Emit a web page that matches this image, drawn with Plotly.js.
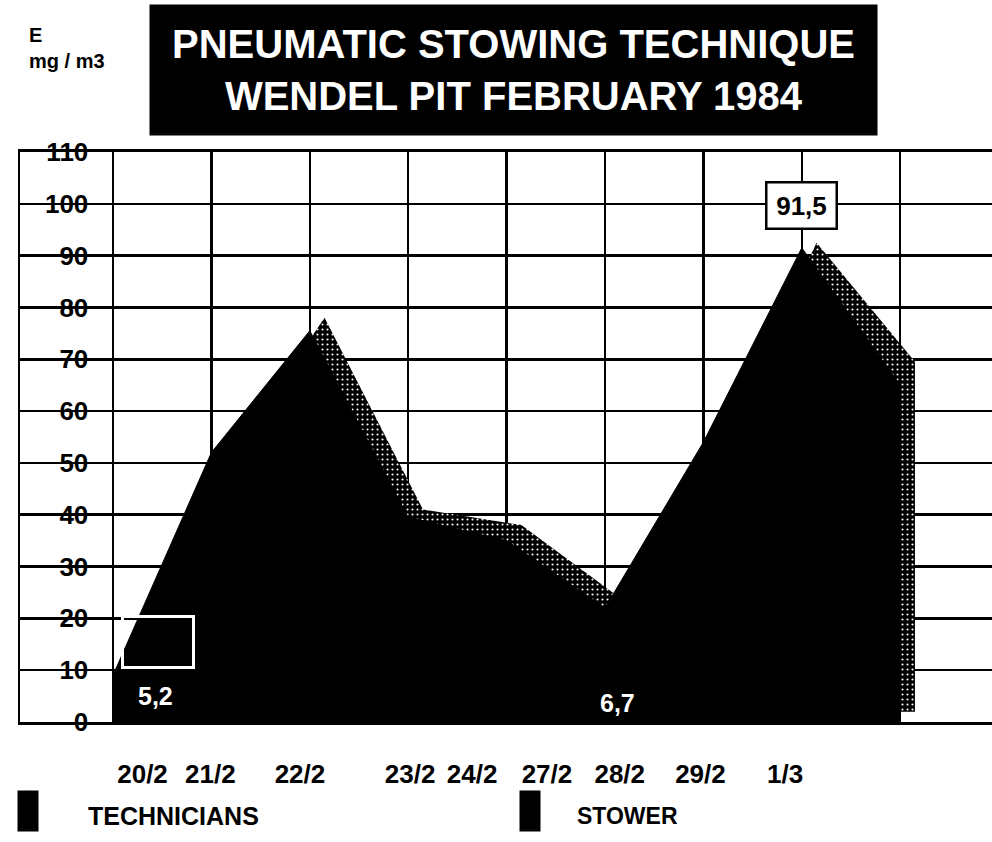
<!DOCTYPE html>
<html>
<head>
<meta charset="utf-8">
<script src="https://cdn.plot.ly/plotly-3.0.1.min.js"></script>
<style>
html,body{margin:0;padding:0;background:#fff;}
#chart{width:992px;height:842px;}
</style>
</head>
<body>
<div id="chart"></div>
<script>
// ---- data ----
const categories  = ['20/2','21/2','22/2','23/2','24/2','27/2','28/2','29/2','1/3'];
const technicians = [9, 52, 75.5, 39.5, 35, 22, 54, 91.5, 65];
const stower      = [5.2, 48, 76, 39, 36, 22, 50, 90.5, 67.5];
const lowLabelCats = ['20/2', '27/2'];
const lowLabelVals = [5.2, 6.7];
const yTicks = [0,10,20,30,40,50,60,70,80,90,100,110];

// ---- layout helpers (positions / styles only) ----
const idx = categories.map((c, i) => i);
const labelPos = [0.30, 0.99, 1.90, 3.02, 3.65, 4.41, 5.15, 5.97, 6.83];
const xr = [-0.945, 8.933];
const depthX = 0.15;   // 3-D depth offset of the back series (category units)
const depthY = 2;      // (value units)
const fmt = v => String(v).replace('.', ',');
const TFONT = 'Liberation Sans, Arial, sans-serif';
const LFONT = 'Liberation Sans, Arial, sans-serif';

const data = [
  { // back series (drawn first, offset in depth)
    x: idx, y: stower, name: 'STOWER', type: 'scatter', mode: 'lines',
    xaxis: 'x2', yaxis: 'y2', fill: 'tozeroy',
    line: {color: '#000', width: 0},
    fillcolor: '#000',
    fillpattern: {shape: '.', bgcolor: '#000', fgcolor: '#fff', size: 5, solidity: 0.14, fillmode: 'replace'},
    hoverinfo: 'skip', showlegend: false
  },
  { // front series
    x: idx, y: technicians, name: 'TECHNICIANS', type: 'scatter', mode: 'lines',
    xaxis: 'x3', yaxis: 'y3', fill: 'tozeroy',
    line: {color: '#000', width: 1}, fillcolor: '#000',
    hoverinfo: 'skip', showlegend: false
  }
];

const annotations = [
  { // title block
    xref: 'paper', yref: 'paper', x: 0.5077, y: 1.1439, xanchor: 'center', yanchor: 'middle',
    text: '<b>PNEUMATIC STOWING TECHNIQUE</b><br><b>WENDEL PIT FEBRUARY 1984</b>',
    showarrow: false, bgcolor: '#000', width: 727, height: 130, borderpad: 0,
    font: {family: TFONT, size: 40, color: '#fff'}
  },
  {
    xref: 'paper', yref: 'paper', x: 0.007, y: (722 - 22) / 570, xanchor: 'left', yanchor: 'top', align: 'left',
    text: '<b>E</b><br><b>mg / m3</b>', showarrow: false,
    font: {family: LFONT, size: 20, color: '#000'}
  },
  { // peak value box
    xref: 'x', yref: 'y', x: technicians.indexOf(Math.max(...technicians)), y: Math.max(...technicians),
    yshift: 42, text: '<b>' + fmt(Math.max(...technicians)) + '</b>', showarrow: false,
    bgcolor: '#fff', bordercolor: '#000', borderwidth: 2.5, width: 68, height: 44, borderpad: 0,
    font: {family: TFONT, size: 26, color: '#000'}
  },
  { // white outlined box at 20/2
    xref: 'x', yref: 'y', x: 0, y: 0, xshift: 45, yshift: 80, text: ' ', showarrow: false,
    bgcolor: 'rgba(0,0,0,0)', bordercolor: '#fff', borderwidth: 3, width: 68, height: 48, borderpad: 0
  },
  { // legend
    xref: 'paper', yref: 'paper', x: (28 - 20) / 972, y: (722 - 811) / 570, xanchor: 'center', yanchor: 'middle',
    text: ' ', showarrow: false, bgcolor: '#000', width: 20, height: 40, borderpad: 0
  },
  {
    xref: 'paper', yref: 'paper', x: (86 - 20) / 972, y: (722 - 816) / 570, xanchor: 'left', yanchor: 'middle',
    text: '<b>TECHNICIANS</b>', showarrow: false, font: {family: TFONT, size: 25, color: '#000'}
  },
  {
    xref: 'paper', yref: 'paper', x: (530 - 20) / 972, y: (722 - 811) / 570, xanchor: 'center', yanchor: 'middle',
    text: ' ', showarrow: false, bgcolor: '#000', width: 20, height: 40, borderpad: 0
  },
  {
    xref: 'paper', yref: 'paper', x: (575 - 20) / 972, y: (722 - 816) / 570, xanchor: 'left', yanchor: 'middle',
    text: '<b>STOWER</b>', showarrow: false, font: {family: TFONT, size: 23, color: '#000'}
  }
];
const lowShift = [[43, 26], [13, 19]];
lowLabelCats.forEach((c, k) => {
  annotations.push({
    xref: 'x', yref: 'y', x: categories.indexOf(c), y: 0,
    xshift: lowShift[k][0], yshift: lowShift[k][1],
    text: '<b>' + fmt(lowLabelVals[k]) + '</b>', showarrow: false,
    font: {family: TFONT, size: 25, color: '#fff'}
  });
});

const layout = {
  width: 992, height: 842,
  margin: {l: 20, r: 0, t: 152, b: 120, pad: 0},
  paper_bgcolor: '#fff', plot_bgcolor: '#fff',
  showlegend: false,
  xaxis: {
    range: xr, tickmode: 'array', tickvals: labelPos, ticktext: categories,
    showgrid: false, zeroline: false, ticks: '',
    showline: true, mirror: true, linecolor: '#000', linewidth: 3,
    tickfont: {family: TFONT, size: 26, color: '#000', weight: 'bold'},
    ticklabelstandoff: 27,
    minor: {tickmode: 'array', tickvals: idx, showgrid: true, gridcolor: '#000', gridwidth: 2.5, ticks: ''}
  },
  yaxis: {
    range: [0, 110], tickmode: 'array', tickvals: yTicks,
    showgrid: true, gridcolor: '#000', gridwidth: 2.5, zeroline: false,
    showline: true, linecolor: '#000', linewidth: 2.5, ticks: '',
    ticklabelstandoff: -76,
    tickfont: {family: LFONT, size: 26, color: '#000', weight: 'bold'}
  },
  xaxis2: {overlaying: 'x', range: [xr[0] - depthX, xr[1] - depthX], visible: false, anchor: 'y2'},
  yaxis2: {overlaying: 'y', range: [-depthY, 110 - depthY], visible: false, anchor: 'x2'},
  xaxis3: {overlaying: 'x', range: xr, visible: false, anchor: 'y3'},
  yaxis3: {overlaying: 'y', range: [0, 110], visible: false, anchor: 'x3'},
  annotations: annotations
};

Plotly.newPlot('chart', data, layout, {staticPlot: true, displayModeBar: false});
</script>
</body>
</html>
